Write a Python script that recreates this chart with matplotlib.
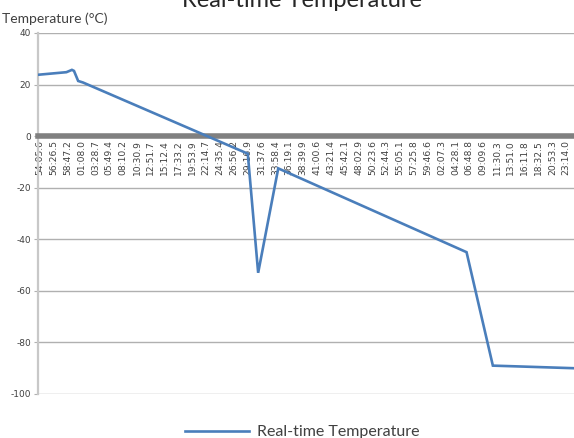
import matplotlib
matplotlib.use("Agg")
import matplotlib.pyplot as plt

plt.rcParams["axes.unicode_minus"] = False

# category labels shown along the time axis (every ~2:20.7)
tick_labels = ["54:05.6", "56:26.5", "58:47.2", "01:08.0", "03:28.7", "05:49.4",
               "08:10.2", "10:30.9", "12:51.7", "15:12.4", "17:33.2", "19:53.9",
               "22:14.7", "24:35.4", "26:56.2", "29:16.9", "31:37.6", "33:58.4",
               "36:19.1", "38:39.9", "41:00.6", "43:21.4", "45:42.1", "48:02.9",
               "50:23.6", "52:44.3", "55:05.1", "57:25.8", "59:46.6", "02:07.3",
               "04:28.1", "06:48.8", "09:09.6", "11:30.3", "13:51.0", "16:11.8",
               "18:32.5", "20:53.3", "23:14.0"]

# vertices of the temperature trace (position in label units, degC)
trace_pos = [-0.15, 1.9, 2.3, 2.45, 2.75, 3.1, 15.0, 15.75, 17.2, 30.8, 32.7, 34.5, 38.56]
trace_temp = [23.8, 24.8, 25.7, 25.3, 21.4, 20.8, -6.8, -53.0, -12.5, -45.0, -89.0, -89.3, -90.0]

blue = "#4a7ebb"
text_col = "#404040"

fig = plt.figure(figsize=(5.74, 4.38), dpi=100)
ax = fig.add_axes([38 / 574, 1 - 394 / 438, 1 - 38 / 574, (394 - 33) / 438])

# spine position first: moving it resets the ticks
for side in ["top", "right"]:
    ax.spines[side].set_visible(False)
ax.spines["left"].set_color("#c8c8c8")
ax.spines["left"].set_linewidth(1.6)
ax.spines["bottom"].set_position(("data", 0))
ax.spines["bottom"].set_color("#808080")
ax.spines["bottom"].set_linewidth(4)

ax.plot(trace_pos, trace_temp, color=blue, linewidth=1.9, label="Real-time Temperature",
        solid_joinstyle="miter", zorder=3)

ax.set_xlim(-0.15, 38.56)
ax.set_ylim(-100, 40)
ax.set_yticks(range(-100, 41, 20))
ax.yaxis.grid(True, color="#b0b0b0", linewidth=1.0)
ax.set_axisbelow(True)

ax.set_xticks(range(len(tick_labels)))
ax.set_xticklabels(tick_labels, rotation=90, fontsize=6.6, color=text_col, va="top")
ax.tick_params(axis="x", length=0, pad=3)
ax.tick_params(axis="y", length=3, color="#b0b0b0", labelsize=6.5, labelcolor=text_col, pad=2)

fig.text(2 / 574, 1 - 23 / 438, "Temperature (°C)", fontsize=10, color=text_col,
         family="Lato", ha="left", va="baseline")
fig.text(302 / 574, 1 - 7 / 438, "Real-time Temperature", fontsize=17, color="#262626",
         family="Lato", ha="center", va="baseline")

fig.legend(loc="center", bbox_to_anchor=(302 / 574, 1 - 432 / 438), frameon=False,
           prop={"family": "Lato", "size": 11.5}, labelcolor=text_col,
           handlelength=4.0, handletextpad=0.5)

fig.savefig("out.png", dpi=100)
